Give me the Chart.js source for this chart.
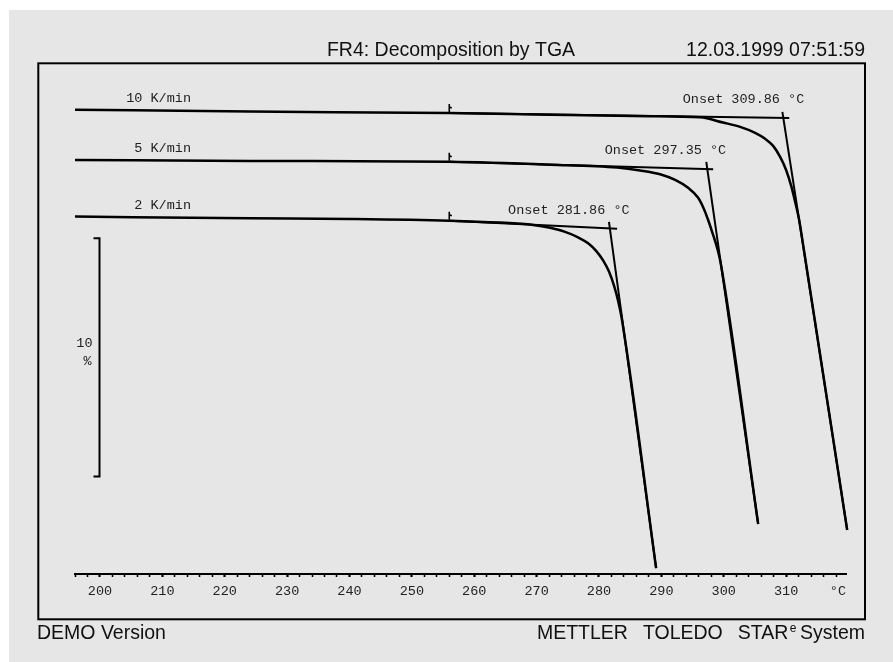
<!DOCTYPE html>
<html>
<head>
<meta charset="utf-8">
<script src="https://cdn.jsdelivr.net/npm/chart.js@4.4.1/dist/chart.umd.min.js"></script>
<style>
  html, body { margin: 0; padding: 0; background: #fff; }
  canvas { display: block; }
</style>
</head>
<body>
<canvas id="tga" width="893" height="662"></canvas>
<script>
// header / footer texts
const title = 'FR4: Decomposition by TGA';
const stamp = '12.03.1999 07:51:59';

// heating rates and evaluated onsets (°C)
const rates = ['10 K/min', '5 K/min', '2 K/min'];
const onsets = [309.86, 297.35, 281.86];

// TGA curves: temperature (°C) and weight (%) as shown on the plot
const temp10 = [196.0, 224.0, 256.0, 272.2, 288.2, 296.22, 299.90, 302.63, 305.03, 306.64, 307.92, 309.04, 310.00, 310.81, 311.45, 312.09, 312.73, 319.79];
const mass10 = [100.0, 99.92, 99.86, 99.79, 99.73, 99.68, 99.46, 99.28, 99.03, 98.78, 98.48, 98.02, 97.47, 96.80, 96.13, 95.37, 94.32, 82.35];

const temp5 = [196.0, 224.0, 256.0, 272.2, 282.91, 286.59, 289.80, 292.21, 294.29, 295.90, 296.70, 297.50, 298.30, 298.94, 299.50, 305.52];
const mass5 = [97.89, 97.85, 97.81, 97.69, 97.57, 97.45, 97.29, 97.05, 96.72, 96.30, 95.90, 95.37, 94.74, 94.20, 93.57, 82.60];

const temp2 = [196.0, 224.0, 240.1, 256.0, 264.1, 269.44, 272.16, 274.57, 276.65, 278.26, 279.54, 280.66, 281.62, 282.42, 283.07, 283.63, 289.16];
const mass2 = [95.51, 95.44, 95.41, 95.34, 95.26, 95.16, 95.04, 94.87, 94.64, 94.39, 94.07, 93.67, 93.19, 92.60, 91.97, 91.26, 80.75];

// onset construction lines: baseline tangent and inflection tangent
const baseTanT = [[256.0, 310.5], [256.0, 298.3], [256.0, 282.9]];
const baseTanW = [[99.86, 99.65], [97.81, 97.50], [95.34, 95.00]];
const inflTanT = [[309.4, 319.79], [297.2, 305.52], [281.6, 289.16]];
const inflTanW = [[99.91, 82.35], [97.81, 82.60], [95.29, 80.75]];

// evaluation limit marker (°C)
const markT = 256.0;

// scale bar: 10 % starting at this weight
const barTop = 94.6;
const barSpan = 10;

// x axis
const xMin = 196, xMax = 319.6, xStep = 2;

const series = [
  { t: temp10, w: mass10 },
  { t: temp5, w: mass5 },
  { t: temp2, w: mass2 }
];

const pts = (t, w) => t.map((v, i) => ({ x: v, y: w[i] }));

const datasets = [];
series.forEach((s, i) => {
  datasets.push({ label: rates[i], data: pts(s.t, s.w), borderColor: '#000', borderWidth: 2.5, cubicInterpolationMode: 'monotone' });
  datasets.push({ label: 'base ' + rates[i], data: pts(baseTanT[i], baseTanW[i]), borderColor: '#000', borderWidth: 2 });
  datasets.push({ label: 'infl ' + rates[i], data: pts(inflTanT[i], inflTanW[i]), borderColor: '#000', borderWidth: 2 });
});

const mono = '13.5px "Liberation Mono", "DejaVu Sans Mono", monospace';
const sans = '19.5px "Liberation Sans", Arial, sans-serif';

const pagePlugin = {
  id: 'tgaPage',
  beforeDraw(chart) {
    const c = chart.ctx;
    c.save();
    c.fillStyle = '#fff';
    c.fillRect(0, 0, chart.width, chart.height);
    c.fillStyle = '#e6e6e6';
    c.fillRect(9, 10, chart.width - 9, chart.height - 10);
    c.restore();
  },
  afterDraw(chart) {
    const c = chart.ctx, xs = chart.scales.x, ys = chart.scales.y;
    const area = chart.chartArea;
    c.save();

    // frame
    c.strokeStyle = '#000';
    c.lineWidth = 2;
    c.strokeRect(38.3, 63.3, 826.7, 556);

    // header
    c.fillStyle = '#111';
    c.font = sans;
    c.textBaseline = 'alphabetic';
    c.textAlign = 'center';
    c.fillText(title, 451, 56);
    c.textAlign = 'right';
    c.fillText(stamp, 865, 56);

    // footer
    c.textAlign = 'left';
    c.fillText('DEMO Version', 37, 639);
    c.textAlign = 'right';
    let x = 865;
    c.fillText('System', x, 639);
    x -= c.measureText('System').width + 3.5;
    c.font = '12px "Liberation Sans", Arial, sans-serif';
    c.fillText('e', x, 632);
    x -= c.measureText('e').width + 1.5;
    c.font = sans;
    ['STAR', 'TOLEDO', 'METTLER'].forEach(wd => {
      c.fillText(wd, x, 639);
      x -= c.measureText(wd).width + 15;
    });

    // curve labels and onset labels
    c.font = mono;
    c.fillStyle = '#222';
    series.forEach((s, i) => {
      const y0 = ys.getPixelForValue(s.w[0]);
      c.textAlign = 'right';
      c.fillText(rates[i], area.left + 116, y0 - 8);
      const ox = xs.getPixelForValue(onsets[i]) + 19;
      const oy = ys.getPixelForValue(baseTanW[i][1]) - 15;
      c.fillText('Onset ' + onsets[i].toFixed(2) + ' °C', ox, oy);

      // evaluation limit marker
      const k = s.t.indexOf(markT);
      const mx = xs.getPixelForValue(markT), my = ys.getPixelForValue(s.w[k]);
      c.strokeStyle = '#000';
      c.lineWidth = 1.6;
      c.beginPath();
      c.moveTo(mx, my - 1);
      c.lineTo(mx, my - 9);
      c.moveTo(mx, my - 6);
      c.lineTo(mx + 2.5, my - 5);
      c.stroke();
    });

    // 10 % scale bar
    const yt = ys.getPixelForValue(barTop), yb = ys.getPixelForValue(barTop - barSpan);
    const bx = area.left + 24.5;
    c.strokeStyle = '#000';
    c.lineWidth = 2;
    c.beginPath();
    c.moveTo(bx - 6, yt);
    c.lineTo(bx, yt);
    c.lineTo(bx, yb);
    c.lineTo(bx - 6, yb);
    c.stroke();
    c.textAlign = 'right';
    c.textBaseline = 'middle';
    const ym = (yt + yb) / 2;
    c.fillText(String(barSpan), bx - 7, ym - 14);
    c.fillText('%', bx - 8, ym + 4);

    // axis unit
    c.fillText('°C', xs.right, 591);
    c.restore();
  }
};

new Chart(document.getElementById('tga'), {
  type: 'line',
  data: { datasets },
  plugins: [pagePlugin],
  options: {
    responsive: false,
    animation: false,
    events: [],
    layout: { padding: { left: 75, right: 47, top: 74, bottom: 48 } },
    datasets: {
      line: { pointRadius: 0, tension: 0, fill: false, clip: false }
    },
    plugins: {
      colors: { enabled: false },
      legend: { display: false },
      title: { display: false },
      tooltip: { enabled: false }
    },
    scales: {
      x: {
        type: 'linear',
        min: xMin,
        max: xMax,
        afterFit: (scale) => { scale.height = 40; },
        border: { display: true, color: '#000', width: 2 },
        grid: {
          drawOnChartArea: false,
          drawTicks: true,
          tickLength: 3,
          tickColor: '#000',
          tickWidth: (ctx) => (ctx.tick && Math.abs(ctx.tick.value % 10) < 0.01 ? 2.2 : 1.6)
        },
        ticks: {
          stepSize: xStep,
          includeBounds: false,
          autoSkip: false,
          maxRotation: 0,
          padding: 6,
          color: '#222',
          font: { family: '"Liberation Mono", "DejaVu Sans Mono", monospace', size: 13.5 },
          callback: (v) => (Math.abs(v % 10) < 0.01 ? String(Math.round(v)) : '')
        }
      },
      y: {
        type: 'linear',
        display: false,
        min: 80.5,
        max: 101.5
      }
    }
  }
});
</script>
</body>
</html>
